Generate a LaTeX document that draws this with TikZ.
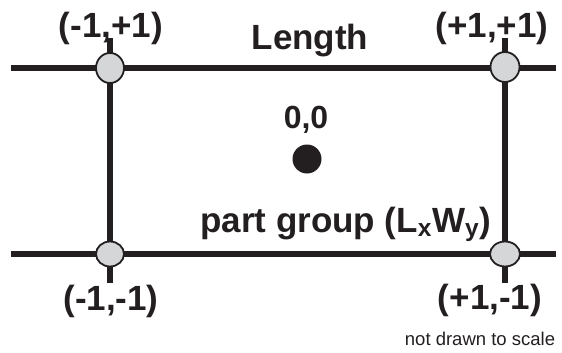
\documentclass[tikz,border=0pt]{standalone}
\usepackage{fontspec}
\setmainfont{Liberation Sans}
\usetikzlibrary{shapes.geometric}
\definecolor{ink}{HTML}{231F20}
\definecolor{jointfill}{HTML}{D4D6D8}
\begin{document}
\begin{tikzpicture}[x=1pt,y=-1pt,
  rail/.style={draw=ink,line width=5.5pt},
  joint/.style={ellipse,draw=ink,line width=1.8pt,fill=jointfill,inner sep=0pt},
  lbl/.style={text=ink,font=\bfseries\fontsize{35}{35}\selectfont,inner sep=0pt,anchor=base},
  note/.style={text=ink,font=\fontsize{18.5}{18.5}\selectfont,inner sep=0pt,anchor=base}]
\useasboundingbox (0,0) rectangle (562,353);
% rail end points
\coordinate (h1w) at (11,68);
\coordinate (h1e) at (556,68);
\coordinate (h2w) at (11,254);
\coordinate (h2e) at (556,254);
\coordinate (v1n) at (110,38);
\coordinate (v1s) at (110,283);
\coordinate (v2n) at (505,38);
\coordinate (v2s) at (505,283);
\draw[rail] (h1w) -- (h1e);
\draw[rail] (h2w) -- (h2e);
\draw[rail] (v1n) -- (v1s);
\draw[rail] (v2n) -- (v2s);
% joints
\node[joint,minimum width=28pt,minimum height=30pt] (tl) at (110,68) {};
\node[joint,minimum width=29pt,minimum height=30pt] (tr) at (505,67) {};
\node[joint,minimum width=28pt,minimum height=25pt] (bl) at (110,254) {};
\node[joint,minimum width=30pt,minimum height=25pt] (br) at (505,254) {};
% centre dot
\node[circle,fill=ink,minimum size=29pt,inner sep=0pt] (c) at (307,159) {};
% labels
\node[lbl] (ltl) at (111,38) {(-1,+1)};
\node[lbl] (ltr) at (492,38) {(+1,+1)};
\node[lbl] (lbl1) at (111,310) {(-1,-1)};
\node[lbl] (lbr) at (490,309) {(+1,-1)};
\node[lbl] (len) at (310,50) {Length};
\node[lbl,font=\bfseries\fontsize{32}{32}\selectfont] (zero) at (306,128) {0,0};
\node[lbl,anchor=base west] (pg) at (200,232) {part group (L\textsubscript{x}W\textsubscript{y})};
\node[note] (ns) at (480,345) {not drawn to scale};
\end{tikzpicture}
\end{document}
